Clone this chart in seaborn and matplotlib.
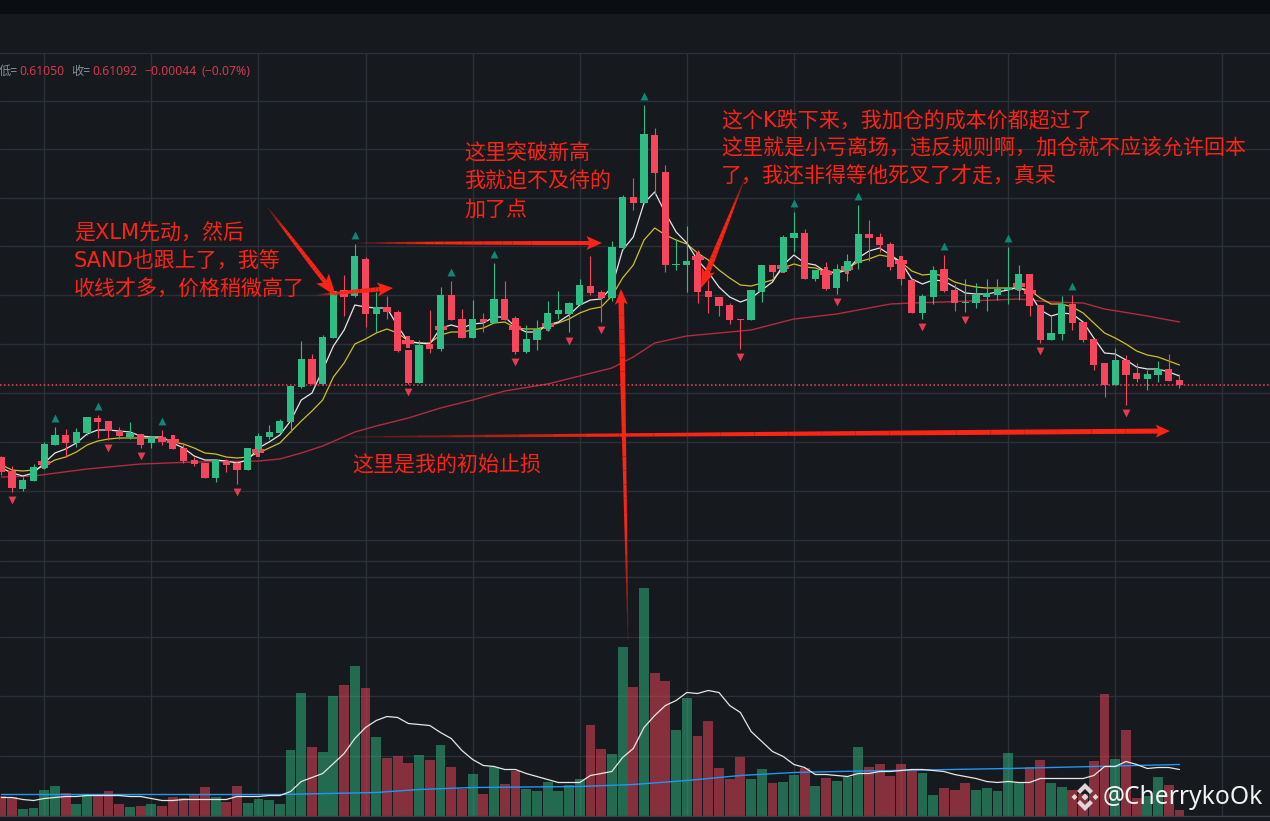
import matplotlib
matplotlib.use('Agg')
import matplotlib.pyplot as plt
import numpy as np
import pandas as pd
import seaborn as sns
from matplotlib.patches import Polygon

# prices in 1/10000 USDT
opens = [6038,6024,6006,6014,6027,6050,6060,6052,6062,6077,
         6074,6064,6058,6061,6052,6058,6056,6047,6035,6032,
         6017,6034,6032,6025,6046,6058,6062,6073,6108,6136,
         6111,6157,6205,6199,6236,6181,6188,6183,6145,6112,
         6151,6146,6200,6176,6157,6176,6172,6196,6177,6143,
         6155,6166,6181,6181,6190,6209,6203,6197,6247,6298,
         6292,6360,6323,6230,6230,6239,6204,6198,6190,6176,
         6175,6203,6230,6223,6257,6262,6216,6225,6207,6224,
         6232,6261,6258,6251,6231,6215,6182,6198,6226,6205,
         6192,6192,6198,6200,6205,6205,6221,6190,6155,6161,
         6191,6173,6156,6132,6110,6135,6122,6116,6120,6126,6115]
closes = [6023,6007,6015,6028,6051,6060,6052,6063,6078,6073,
          6064,6059,6062,6050,6058,6053,6046,6034,6031,6017,
          6035,6030,6025,6047,6059,6063,6074,6109,6136,6111,
          6158,6204,6198,6239,6181,6188,6183,6144,6112,6150,
          6146,6200,6175,6157,6176,6173,6196,6175,6143,6156,
          6166,6182,6185,6192,6210,6202,6197,6248,6298,6292,
          6361,6322,6230,6231,6234,6203,6198,6189,6175,6175,
          6205,6230,6223,6258,6262,6216,6225,6206,6226,6234,
          6261,6257,6250,6228,6216,6182,6199,6225,6204,6192,
          6193,6200,6202,6206,6207,6221,6189,6155,6162,6191,
          6172,6155,6130,6110,6135,6120,6116,6121,6126,6114,6110]
highs = [6039,6029,6018,6031,6053,6068,6066,6067,6078,6080,
         6074,6068,6073,6061,6058,6065,6060,6052,6038,6032,
         6035,6036,6032,6047,6062,6070,6076,6109,6154,6141,
         6160,6204,6220,6251,6238,6203,6199,6185,6145,6155,
         6185,6208,6214,6186,6195,6182,6232,6214,6179,6170,
         6175,6194,6204,6193,6216,6239,6205,6254,6300,6317,
         6390,6367,6330,6256,6269,6245,6215,6198,6192,6176,
         6205,6230,6230,6260,6283,6266,6225,6233,6231,6241,
         6290,6275,6262,6253,6239,6216,6201,6229,6240,6211,
         6216,6212,6216,6216,6248,6230,6221,6190,6179,6199,
         6200,6173,6156,6132,6147,6140,6132,6125,6134,6141,6121]
lows = [6020,6003,6004,6014,6026,6050,6038,6048,6060,6057,
        6055,6056,6056,6047,6047,6050,6046,6032,6029,6017,
        6013,6023,6011,6025,6042,6056,6062,6063,6107,6111,
        6110,6157,6179,6198,6168,6163,6176,6143,6111,6112,
        6142,6144,6175,6157,6157,6163,6172,6175,6141,6142,
        6145,6164,6176,6163,6190,6200,6173,6194,6245,6285,
        6292,6300,6223,6225,6203,6192,6182,6179,6171,6146,
        6175,6193,6216,6223,6243,6216,6214,6205,6201,6214,
        6226,6234,6243,6225,6210,6182,6176,6191,6203,6184,
        6183,6187,6184,6195,6191,6195,6179,6152,6155,6155,
        6165,6153,6125,6098,6110,6090,6113,6105,6113,6114,6107]

ma_white = [6027,6022,6019,6022,6032,6042,6046,6052,6061,6065,
            6065,6064,6063,6059,6058,6058,6052,6047,6039,6035,
            6035,6034,6032,6035,6047,6053,6060,6074,6095,6102,
            6125,6149,6165,6190,6188,6187,6187,6169,6153,6152,
            6151,6167,6170,6167,6171,6172,6178,6178,6168,6163,
            6163,6170,6173,6180,6190,6195,6196,6208,6245,6258,
            6292,6303,6282,6263,6252,6235,6223,6208,6198,6193,
            6197,6205,6213,6230,6240,6232,6230,6223,6222,6225,
            6237,6244,6247,6240,6233,6216,6211,6215,6214,6208,
            6202,6201,6201,6203,6205,6208,6202,6185,6179,6182,
            6181,6173,6157,6142,6141,6135,6128,6126,6126,6123,6119]
ma_yellow = [6030,6025,6024,6025,6029,6035,6038,6043,6050,6054,
             6056,6057,6057,6057,6057,6057,6053,6051,6047,6042,
             6041,6038,6037,6038,6042,6047,6052,6063,6074,6084,
             6095,6118,6132,6151,6156,6162,6166,6162,6154,6152,
             6152,6160,6163,6163,6165,6167,6172,6173,6167,6166,
             6166,6169,6172,6176,6182,6186,6188,6199,6217,6230,
             6255,6267,6260,6255,6251,6242,6235,6225,6217,6210,
             6209,6212,6215,6227,6231,6228,6227,6223,6223,6227,
             6233,6236,6240,6238,6233,6224,6220,6221,6219,6213,
             6210,6208,6207,6207,6207,6207,6205,6197,6191,6191,
             6188,6182,6172,6162,6157,6151,6144,6140,6138,6134,6130]
ma_red_idx = [0,3,8,13,18,24,26,28,30,33,35,38,41,44,47,51,57,59,61,64,70,74,78,83,85,88,95,98,101,103,107,110]
ma_red = [6018,6019,6026,6031,6033,6034,6036,6042,6049,6063,6069,6077,6087,6095,6104,6111,6127,6138,6152,6159,
          6165,6176,6181,6191,6192,6193,6196,6193,6192,6186,6179,6173]

up_idx = [5,9,15,33,42,46,60,74,80,88,94,100]
up_price = [6077,6089,6074,6260,6223,6241,6399,6292,6299,6249,6257,6209]
down_idx = [1,10,13,22,38,48,53,56,69,78,86,90,97,105]
down_price = [5995,6047,6039,6003,6103,6133,6154,6165,6138,6193,6168,6175,6144,6082]
plus_idx = [4,16,24,38,41,48,51,65,73,77,79,84,95,96]
plus_price = [6032,6054,6044,6153,6167,6167,6170,6237,6228,6222,6227,6233,6210,6203]

last_price = 6110
price_grid = [6394,6346,6297,6249,6200,6151,6102,6053,6004,5955,5934]

# volume
volumes = [20,19,7,8,26,30,23,12,22,20,
           25,12,9,10,12,10,19,18,22,29,
           19,14,30,13,17,16,12,66,123,69,
           64,120,131,150,128,79,58,60,53,61,
           56,71,49,27,42,22,49,32,45,27,
           25,34,25,31,37,91,67,62,169,129,
           228,143,135,86,118,80,95,48,37,59,
           37,47,33,34,41,48,30,38,35,39,
           69,49,52,40,52,45,43,21,28,26,
           33,26,28,25,63,33,49,56,33,29,
           26,22,55,122,57,86,18,20,39,31,6]
vol_white = [18,18,16,15,17,18,19,19,20,20,
             20,20,19,19,17,15,15,16,16,16,
             16,16,19,19,19,20,20,24,34,38,
             42,52,62,77,88,95,99,98,92,91,
             90,83,77,65,56,50,49,46,46,42,
             39,36,33,33,33,40,42,44,58,67,
             88,100,110,115,123,122,125,123,110,103,
             84,74,64,59,51,48,41,41,40,39,
             42,42,44,44,45,46,46,45,44,41,
             39,37,34,33,34,33,33,37,37,37,
             37,37,40,49,49,54,51,47,48,48,46]
vol_blue_idx = [0,26,35,39,44,54,59,64,69,74,78,94,110]
vol_blue = [21,21,23,26,28,29,31,35,40,43,44,47,51]
vol_grid = [60,120,179]

BG = '#161a1e'
GRID = '#2b2f36'
GREEN = '#2ebd85'
RED = '#f6465d'
ANNOT = '#fb2416'

sns.set_theme(style='dark')
plt.rcParams['font.family'] = ['DejaVu Sans', 'Noto Sans CJK SC']

to_price = lambda a: np.array(a) / 10000
o, c, h, l = to_price(opens), to_price(closes), to_price(highs), to_price(lows)
idx = np.arange(len(o))
rising = c >= o

W, H = 1270, 821
fig = plt.figure(figsize=(W / 100, H / 100), dpi=100, facecolor=BG)
ax = fig.add_axes([0, (H - 577) / H, 1, (577 - 53) / H], facecolor=BG)
vax = fig.add_axes([0, (H - 815.5) / H, 1, (815.5 - 577) / H], facecolor=BG)
top = fig.add_axes([0, 0, 1, 1], facecolor='none', zorder=10)
top.set_xlim(0, W)
top.set_ylim(H, 0)
top.axis('off')

x_lim = (-0.13, 118.45)
grid_x = np.arange(4, 118, 10)

# price panel
for yv in to_price(price_grid):
    ax.axhline(yv, color=GRID, lw=1, zorder=0)
for xv in grid_x:
    ax.axvline(xv, color=GRID, lw=1, zorder=0)

sns.lineplot(x=ma_red_idx, y=to_price(ma_red), color='#b02c3e', lw=1.0, ax=ax, zorder=2, errorbar=None)
sns.lineplot(x=idx, y=to_price(ma_yellow), color='#d2bd2a', lw=0.9, ax=ax, zorder=2, errorbar=None)
sns.lineplot(x=idx, y=to_price(ma_white), color='#e6e6e6', lw=0.9, ax=ax, zorder=2, errorbar=None)
ax.axhline(last_price / 10000, color=RED, lw=1.1, ls=(0, (1, 1.6)), zorder=2)

sns.scatterplot(x=plus_idx, y=to_price(plus_price), marker='P', s=70, color=RED, linewidth=0, ax=ax, zorder=3)

colors = np.where(rising, GREEN, RED)
ax.vlines(idx, l, h, colors=colors, lw=0.8, zorder=4)
ax.bar(idx, np.abs(c - o), bottom=np.minimum(o, c), width=0.68, color=colors, linewidth=0, zorder=4)

sns.scatterplot(x=up_idx, y=to_price(up_price), marker='^', s=32, color='#0a8a76', linewidth=0, ax=ax, zorder=5)
sns.scatterplot(x=down_idx, y=to_price(down_price), marker='v', s=32, color='#e63b50', linewidth=0, ax=ax, zorder=5)

ax.set_xlim(*x_lim)
ax.set_ylim((6495 - 577) / 10000, (6495 - 53) / 10000)

# volume panel
vol_side = np.where(rising, 'up', 'down')
vol_side[90] = 'down'
vol_df = pd.DataFrame({'i': idx, 'volume': volumes, 'side': vol_side})
for yv in vol_grid:
    vax.axhline(yv, color=GRID, lw=1, zorder=0)
for xv in grid_x:
    vax.axvline(xv, color=GRID, lw=1, zorder=0)
sns.barplot(data=vol_df, x='i', y='volume', hue='side', palette={'up': GREEN, 'down': RED}, dodge=False,
            native_scale=True, width=0.92, alpha=0.5, saturation=1, linewidth=0, legend=False, ax=vax, zorder=2)
sns.lineplot(x=vol_blue_idx, y=vol_blue, color='#2196f3', lw=1.0, ax=vax, zorder=3, errorbar=None)
sns.lineplot(x=idx, y=vol_white, color='#e6e6e6', lw=0.9, ax=vax, zorder=3, errorbar=None)
vax.set_xlim(*x_lim)
vax.set_ylim(0, 238.5)

for a in (ax, vax):
    a.set_xticks([])
    a.set_yticks([])
    a.set_xlabel('')
    a.set_ylabel('')
    for s in a.spines.values():
        s.set_visible(False)
    a.spines['top'].set_visible(True)
    a.spines['top'].set_color(GRID)
    a.spines['top'].set_linewidth(1)
vax.spines['bottom'].set_visible(True)
vax.spines['bottom'].set_color('#3a3e45')
vax.spines['bottom'].set_linewidth(1)

# dark strip at the very top
top.fill_between([0, W], 0, 14, color='#0b0e11', lw=0)

# ohlc legend, cut off on the left like the screenshot
for tx, label, col in [(-1, '低=', '#848e9c'), (19, '0.61050', '#d6364c'), (71, '收=', '#848e9c'),
                       (92, '0.61092', '#d6364c'), (144, '−0.00044', '#d6364c'), (201, '(−0.07%)', '#d6364c')]:
    top.text(tx, 75, label, color=col, fontsize=8.8, va='baseline', ha='left',
             family=['Noto Sans', 'Noto Sans CJK SC'])


def arrow(x0, y0, x1, y1, head_len, head_w, body_w, n=24, power=0.6):
    # red hand drawn arrow, thin and faded at the tail
    d = np.array([x1 - x0, y1 - y0], dtype=float)
    length = np.hypot(*d)
    d /= length
    nrm = np.array([-d[1], d[0]])
    p0 = np.array([x0, y0], dtype=float)
    neck = length - head_len
    wid = lambda t: body_w * min(1, 0.15 + t ** power)
    for k in range(n):
        t0, t1 = k / n, (k + 1) / n
        a = p0 + d * neck * t0
        b = p0 + d * neck * t1
        pts = [a + nrm * wid(t0) / 2, b + nrm * wid(t1) / 2,
               b - nrm * wid(t1) / 2, a - nrm * wid(t0) / 2]
        top.add_patch(Polygon(pts, color=ANNOT, lw=0, alpha=min(1, 0.15 + t1 * 2.5)))
    neck_pt = p0 + d * neck
    back = neck_pt - d * head_len * 0.3
    tip = p0 + d * length
    top.add_patch(Polygon([back + nrm * head_w / 2, tip, back - nrm * head_w / 2, neck_pt], color=ANNOT, lw=0))


arrow(268, 208, 336, 296, 17, 16, 4.5)
arrow(317, 295, 393, 288, 12, 14, 4.5)
arrow(357, 243, 602, 243, 12, 14, 4)
arrow(628, 640, 621, 289, 12, 13, 5.5, power=1.0)
arrow(745, 178, 701, 288, 15, 14, 5.5, power=1.0)
arrow(350, 437, 1170, 431, 11, 13, 5)

notes = [(74, 231, '是XLM先动，然后'), (74, 260, 'SAND也跟上了，我等'), (74, 288, '收线才多，价格稍微高了'),
         (464, 152, '这里突破新高'), (464, 180, '我就迫不及待的'), (464, 208, '加了点'),
         (721, 119, '这个K跌下来，我加仓的成本价都超过了'),
         (721, 147, '这里就是小亏离场，违反规则啊，加仓就不应该允许回本'),
         (721, 175, '了，我还非得等他死叉了才走，真呆'),
         (352, 464, '这里是我的初始止损')]
for tx, ty, label in notes:
    top.text(tx, ty + 8, label, color=ANNOT, fontsize=15.1, va='baseline', ha='left')

# watermark
lx, ly = 1085, 797
logo = [[(0, -14), (8, -6), (5, -3), (0, -8), (-5, -3), (-8, -6)],
        [(0, 14), (8, 6), (5, 3), (0, 8), (-5, 3), (-8, 6)],
        [(0, -3.5), (3.5, 0), (0, 3.5), (-3.5, 0)],
        [(-10.5, -3), (-7.5, 0), (-10.5, 3), (-13.5, 0)],
        [(10.5, -3), (13.5, 0), (10.5, 3), (7.5, 0)]]
for piece in logo:
    top.add_patch(Polygon([(lx + px, ly + py) for px, py in piece], color='#dcd8d8', lw=0))
top.text(1103, 797, '@CherrykoOk', color='#f2f2f2', fontsize=17.7, va='center', ha='left', family='Noto Sans')

fig.savefig('out.png', dpi=100, facecolor=BG)
